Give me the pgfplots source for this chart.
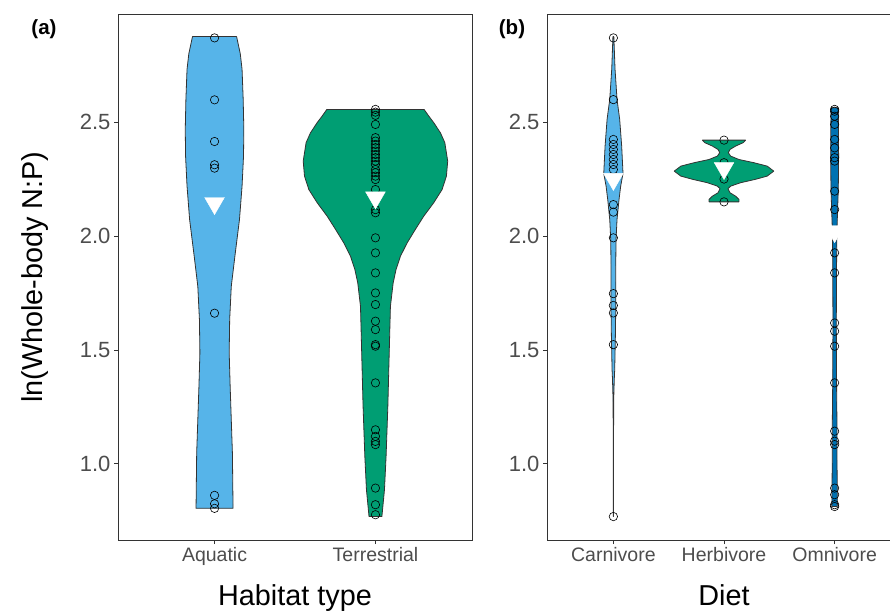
\documentclass[border=0pt]{standalone}
\usepackage{fontspec}
\setmainfont{Liberation Sans}
\usepackage{pgfplots}
\usepackage{pgfplotstable}
\pgfplotsset{compat=1.18}

\definecolor{aqua}{HTML}{56B4E9}
\definecolor{terr}{HTML}{009E73}
\definecolor{omni}{HTML}{0072B2}
\definecolor{edge}{HTML}{333333}
\definecolor{ticktext}{HTML}{4D4D4D}

% violin outlines: y and signed half width (x units), right side up, left side down
\pgfplotstableread{
y w
0.804 0.115
1.047 0.111
1.193 0.104
1.340 0.097
1.487 0.091
1.633 0.094
1.779 0.104
1.926 0.129
2.073 0.155
2.219 0.171
2.350 0.180
2.468 0.182
2.600 0.178
2.732 0.171
2.800 0.160
2.876 0.137
2.876 -0.137
2.800 -0.160
2.732 -0.171
2.600 -0.178
2.468 -0.182
2.350 -0.180
2.219 -0.171
2.073 -0.155
1.926 -0.129
1.779 -0.104
1.633 -0.094
1.487 -0.091
1.340 -0.097
1.193 -0.104
1.047 -0.111
0.804 -0.115
}\vAqua
\pgfplotstableread{
y w
0.768 0.040
0.886 0.056
1.032 0.066
1.252 0.077
1.472 0.085
1.691 0.093
1.794 0.110
1.853 0.128
1.911 0.155
1.970 0.197
2.029 0.248
2.087 0.300
2.146 0.362
2.204 0.414
2.263 0.441
2.329 0.449
2.410 0.431
2.453 0.404
2.498 0.362
2.527 0.331
2.556 0.302
2.556 -0.302
2.527 -0.331
2.498 -0.362
2.453 -0.404
2.410 -0.431
2.329 -0.449
2.263 -0.441
2.204 -0.414
2.146 -0.362
2.087 -0.300
2.029 -0.248
1.970 -0.197
1.911 -0.155
1.853 -0.128
1.794 -0.110
1.691 -0.093
1.472 -0.085
1.252 -0.077
1.032 -0.066
0.886 -0.056
0.768 -0.040
}\vTerr
\pgfplotstableread{
y w
0.768 0.0015
1.000 0.0015
1.193 0.002
1.300 0.004
1.370 0.008
1.413 0.012
1.560 0.018
1.706 0.022
1.853 0.021
1.985 0.024
2.073 0.033
2.160 0.051
2.219 0.066
2.275 0.087
2.395 0.075
2.512 0.057
2.600 0.033
2.732 0.015
2.876 0.004
2.876 -0.004
2.732 -0.015
2.600 -0.033
2.512 -0.057
2.395 -0.075
2.275 -0.087
2.219 -0.066
2.160 -0.051
2.073 -0.033
1.985 -0.024
1.853 -0.021
1.706 -0.022
1.560 -0.018
1.413 -0.012
1.370 -0.008
1.300 -0.004
1.193 -0.002
1.000 -0.0015
0.768 -0.0015
}\vCarn
\pgfplotstableread{
y w
2.150 0.135
2.161 0.135
2.175 0.105
2.190 0.054
2.208 0.036
2.219 0.060
2.234 0.150
2.249 0.285
2.263 0.390
2.285 0.450
2.307 0.390
2.322 0.270
2.336 0.135
2.351 0.060
2.366 0.039
2.380 0.054
2.395 0.105
2.410 0.174
2.421 0.195
2.421 -0.195
2.410 -0.174
2.395 -0.105
2.380 -0.054
2.366 -0.039
2.351 -0.060
2.336 -0.135
2.322 -0.270
2.307 -0.390
2.285 -0.450
2.263 -0.390
2.249 -0.285
2.234 -0.150
2.219 -0.060
2.208 -0.036
2.190 -0.054
2.175 -0.105
2.161 -0.135
2.150 -0.135
}\vHerb
\pgfplotstableread{
y w
0.812 0.024
0.886 0.024
1.032 0.021
1.179 0.021
1.325 0.018
1.618 0.015
1.911 0.018
2.029 0.021
2.116 0.027
2.204 0.033
2.351 0.036
2.563 0.033
2.563 -0.033
2.351 -0.036
2.204 -0.033
2.116 -0.027
2.029 -0.021
1.911 -0.018
1.618 -0.015
1.325 -0.018
1.179 -0.021
1.032 -0.021
0.886 -0.024
0.812 -0.024
}\vOmni

% observations
\pgfplotstableread{
y
2.870
2.598
2.415
2.313
2.298
1.661
0.861
0.824
0.804
}\pAqua
\pgfplotstableread{
y
2.556
2.544
2.530
2.490
2.432
2.417
2.402
2.388
2.373
2.358
2.344
2.329
2.314
2.292
2.278
2.263
2.248
2.204
2.116
2.102
1.992
1.926
1.838
1.750
1.699
1.626
1.589
1.523
1.516
1.355
1.149
1.120
1.098
1.084
0.893
0.820
0.776
}\pTerr
\pgfplotstableread{
y
2.870
2.599
2.424
2.402
2.380
2.358
2.336
2.314
2.292
2.138
2.105
1.992
1.747
1.695
1.662
1.523
0.768
}\pCarn
\pgfplotstableread{
y
2.421
2.322
2.250
2.150
}\pHerb
\pgfplotstableread{
y
2.556
2.548
2.526
2.490
2.424
2.387
2.344
2.329
2.197
2.116
1.926
1.838
1.618
1.582
1.516
1.355
1.143
1.099
1.084
0.893
0.864
0.820
0.812
}\pOmni

\pgfplotsset{
  violinpanel/.style={
    anchor=south west, width=354pt, height=526pt, scale only axis,
    ymin=0.665, ymax=2.975, xmin=0.4,
    ytick={1,1.5,2,2.5},
    /pgf/number format/assume math mode=true,
    yticklabel style={/pgf/number format/fixed, /pgf/number format/fixed zerofill,
      /pgf/number format/precision=1, font=\fontsize{22}{22}\selectfont, text=ticktext},
    xticklabel style={font=\fontsize{19.5}{19.5}\selectfont, text=ticktext},
    tick align=outside, tick pos=left, major tick length=4pt,
    every tick/.style={edge, line width=0.6pt},
    axis line style={edge, line width=0.7pt},
    every axis x label/.style={at={(axis description cs:0.5,0)}, anchor=base, yshift=-65pt,
      font=\fontsize{28.8}{28.8}\selectfont},
    every axis y label/.style={at={(axis description cs:-0.2119,0.5)}, rotate=90, anchor=base,
      font=\fontsize{28.8}{28.8}\selectfont},
  },
  obs/.style={only marks, mark=o, mark size=4.2pt, mark options={draw=black, line width=0.6pt}},
  avg/.style={only marks, mark=triangle*, mark size=11.4pt, mark options={rotate=180, fill=white, draw=white}},
  vio/.style={draw=edge, line width=0.8pt, line join=round},
}

\begin{document}
\begin{tikzpicture}
\begin{axis}[violinpanel, at={(118pt,70pt)}, xmax=2.6,
  xtick={1,2}, xticklabels={Aquatic,Terrestrial},
  xlabel={Habitat type}, ylabel={ln(Whole-body N:P)}]
  \addplot[vio, fill=aqua] table[x expr=1+\thisrow{w}, y=y]{\vAqua} -- cycle;
  \addplot[vio, fill=terr] table[x expr=2+\thisrow{w}, y=y]{\vTerr} -- cycle;
  \addplot[obs] table[x expr=1, y=y]{\pAqua};
  \addplot[obs] table[x expr=2, y=y]{\pTerr};
  \addplot[avg] coordinates {(1,2.144) (2,2.169)};
\end{axis}

\begin{axis}[violinpanel, at={(547pt,70pt)}, xmax=3.6,
  xtick={1,2,3}, xticklabels={Carnivore,Herbivore,Omnivore},
  xlabel={Diet}]
  \addplot[vio, fill=aqua] table[x expr=1+\thisrow{w}, y=y]{\vCarn} -- cycle;
  \addplot[vio, fill=terr] table[x expr=2+\thisrow{w}, y=y]{\vHerb} -- cycle;
  \addplot[vio, fill=omni] table[x expr=3+\thisrow{w}, y=y]{\vOmni} -- cycle;
  \addplot[obs] table[x expr=1, y=y]{\pCarn};
  \addplot[obs] table[x expr=2, y=y]{\pHerb};
  \addplot[obs] table[x expr=3, y=y]{\pOmni};
  \addplot[avg] coordinates {(1,2.250) (2,2.298) (3,2.021)};
\end{axis}

\node[font=\bfseries\fontsize{20.5}{20.5}\selectfont] at (44pt,581pt) {(a)};
\node[font=\bfseries\fontsize{20.5}{20.5}\selectfont] at (512pt,581pt) {(b)};
\pgfresetboundingbox
\path[use as bounding box] (0pt,0pt) rectangle (890pt,610pt);
\end{tikzpicture}
\end{document}
